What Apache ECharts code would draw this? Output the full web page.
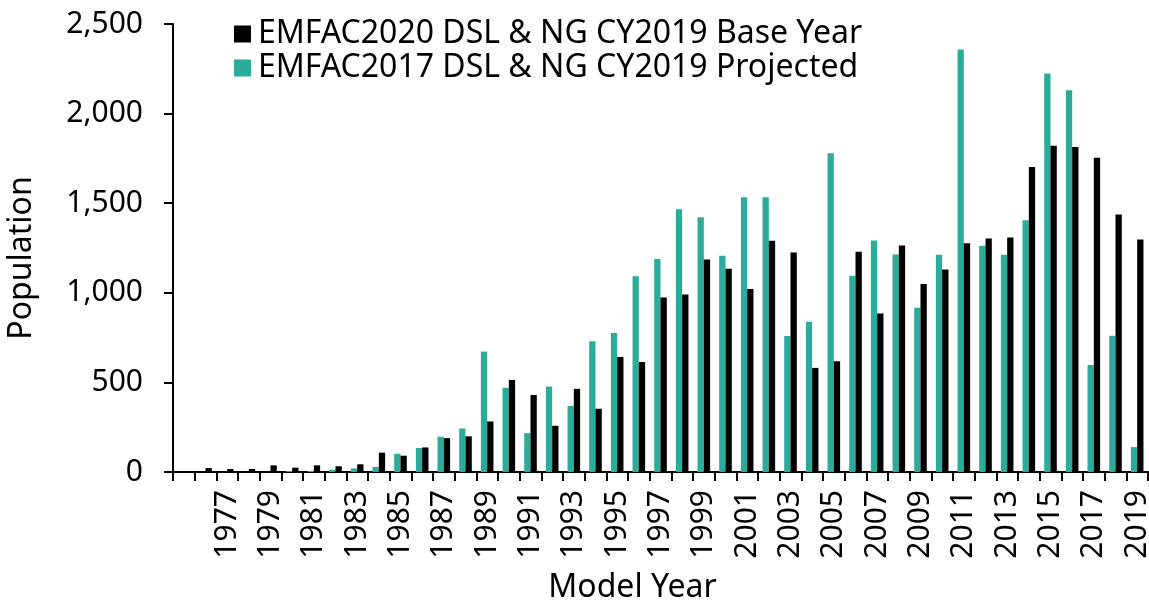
<!DOCTYPE html>
<html>
<head>
<meta charset="utf-8">
<script src="https://cdn.jsdelivr.net/npm/echarts@6/dist/echarts.min.js"></script>
<style>
html,body{margin:0;padding:0;background:#fff;}
#chart{width:1149px;height:600px;}
</style>
</head>
<body>
<div id="chart"></div>
<script>
const years = [1975,1976,1977,1978,1979,1980,1981,1982,1983,1984,1985,1986,1987,1988,1989,1990,1991,1992,1993,1994,1995,1996,1997,1998,1999,2000,2001,2002,2003,2004,2005,2006,2007,2008,2009,2010,2011,2012,2013,2014,2015,2016,2017,2018,2019];
const baseYear2020 = [0,22,17,17,37,24,37,32,43,108,91,137,189,199,282,514,430,258,464,353,642,614,974,991,1186,1134,1021,1290,1225,581,618,1229,885,1264,1049,1130,1277,1303,1308,1702,1821,1813,1753,1437,1298];
const projected2017 = [0,0,0,0,0,5,6,12,20,28,102,134,197,243,672,470,217,477,369,729,776,1093,1188,1466,1422,1207,1533,1533,759,839,1779,1095,1292,1214,917,1212,2358,1262,1212,1405,2224,2130,597,760,139];
const seriesNames = ['EMFAC2020 DSL & NG CY2019 Base Year', 'EMFAC2017 DSL & NG CY2019 Projected'];
const seriesColors = ['#000000', '#2bac9a'];
const yTicks = {min: 0, max: 2500, interval: 500};

const FONT = '"Noto Sans"';
const FS_TICK = 30;
const FS_NAME = 32;
const FS_LEGEND = 32;
const chart = echarts.init(document.getElementById('chart'), null, {renderer: 'canvas'});
chart.setOption({
  animation: false,
  backgroundColor: '#ffffff',
  textStyle: {fontFamily: FONT, color: '#000'},
  grid: {left: 173, right: 1, top: 24, bottom: 128, containLabel: false, outerBoundsMode: 'none'},
  legend: {
    orient: 'vertical',
    left: 234,
    top: 18,
    padding: 0,
    itemWidth: 17,
    itemHeight: 17,
    itemGap: 2,
    icon: 'rect',
    data: [seriesNames[0], seriesNames[1]],
    textStyle: {fontFamily: FONT, fontSize: FS_LEGEND, color: '#000', lineHeight: 32, padding: [0, 0, 0, 2]}
  },
  xAxis: {
    type: 'category',
    data: years,
    boundaryGap: true,
    name: 'Model Year',
    nameLocation: 'middle',
    nameGap: 100,
    nameTextStyle: {fontFamily: FONT, fontSize: FS_NAME, color: '#000', padding: [0, 56, 0, 0]},
    axisLine: {lineStyle: {color: '#000', width: 2}},
    axisTick: {show: true, interval: 0, length: 9, lineStyle: {color: '#000', width: 2}},
    axisLabel: {
      rotate: 90,
      interval: function (index) { return index % 2 === 0 && index > 0; },
      fontFamily: FONT, fontSize: FS_TICK, color: '#000', margin: 18
    },
    splitLine: {show: false}
  },
  yAxis: {
    type: 'value',
    min: yTicks.min,
    max: yTicks.max,
    interval: yTicks.interval,
    name: 'Population',
    nameLocation: 'middle',
    nameGap: 135,
    nameTextStyle: {fontFamily: FONT, fontSize: FS_NAME, color: '#000', padding: [0, 20, 0, 0]},
    axisLine: {show: true, lineStyle: {color: '#000', width: 2}},
    axisTick: {show: true, length: 9, lineStyle: {color: '#000', width: 2}},
    axisLabel: {
      fontFamily: FONT, fontSize: FS_TICK, color: '#000', margin: 30,
      formatter: function (v) { return v.toLocaleString('en-US'); }
    },
    splitLine: {show: false}
  },
  series: [
    {
      name: seriesNames[1], type: 'bar', data: projected2017,
      barWidth: 6.3, barGap: '0%',
      itemStyle: {color: seriesColors[1]}
    },
    {
      name: seriesNames[0], type: 'bar', data: baseYear2020,
      barWidth: 6.3, barGap: '0%',
      itemStyle: {color: seriesColors[0]}
    }
  ]
});
</script>
</body>
</html>
